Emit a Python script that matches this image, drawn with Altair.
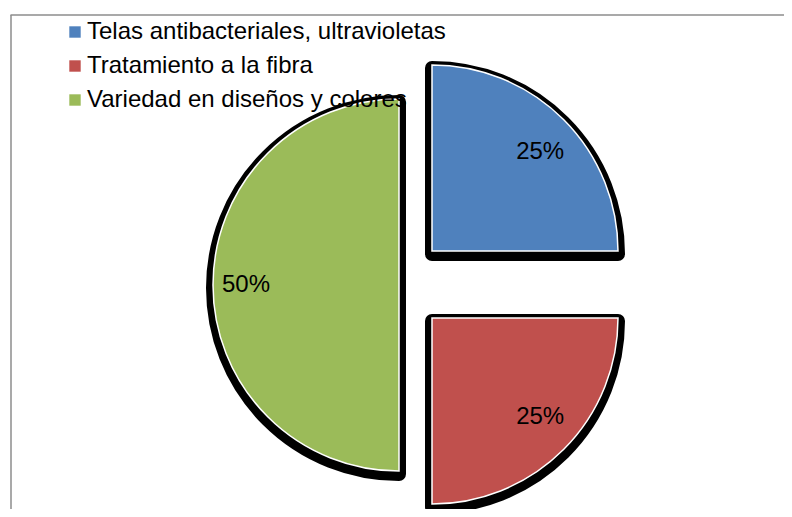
import math
import altair as alt
import pandas as pd

# ---- data ----
categories = ["Telas antibacteriales, ultravioletas", "Tratamiento a la fibra", "Variedad en diseños y colores"]
values = [25, 25, 50]
colors = ["#4F81BD", "#C0504D", "#9BBB59"]

# ---- layout / style (pixels, chart coordinates) ----
W, H = 776, 501
CX, CY = 407, 277
R = 186
LABEL_RX, LABEL_RY = 153, 140
explode = {  # per-slice explosion offsets (style)
    categories[0]: (17, -34),
    categories[1]: (17, 33),
    categories[2]: (-16, 0),
}
SHADOW_DX, SHADOW_DY = 0, 3
FONT = "Liberation Sans, Arial, sans-serif"

df = pd.DataFrame({"cat": categories, "value": values, "idx": list(range(len(categories)))})

base = (
    alt.Chart(df)
    .transform_window(cum="sum(value)", sort=[alt.SortField("idx")], frame=[None, 0])
    .transform_calculate(start="datum.cum - datum.value", mid="datum.cum - datum.value / 2",
                         label="datum.value + '%'")
)

theta = alt.Theta("start:Q", scale=alt.Scale(domain=[0, 100], range=[0, 2 * math.pi]))
theta2 = alt.Theta2("cum:Q")
color = alt.Color(
    "cat:N",
    scale=alt.Scale(domain=categories, range=colors),
    legend=alt.Legend(
        title=None, orient="none", legendX=55, legendY=12, padding=0,
        symbolType="square", symbolSize=130, symbolStrokeWidth=0,
        labelFont=FONT, labelFontSize=24, labelColor="#000000", labelOffset=0,
        rowPadding=10, labelLimit=600,
    ),
)

shadows, fills, texts = [], [], []
for c in categories:
    dx, dy = explode[c]
    sel = base.transform_filter(alt.FieldEqualPredicate(field="cat", equal=c))
    shadows.append(
        sel.mark_arc(radius=R, fill="#000000", stroke="#000000", strokeWidth=14, strokeJoin="round")
        .encode(theta=theta, theta2=theta2,
                x=alt.value(CX + dx + SHADOW_DX), y=alt.value(CY + dy + SHADOW_DY))
    )
    fills.append(
        sel.mark_arc(radius=R, stroke="#FFFFFF", strokeWidth=1.5, strokeJoin="miter")
        .encode(theta=theta, theta2=theta2, color=color,
                x=alt.value(CX + dx), y=alt.value(CY + dy))
    )
    texts.append(
        sel.transform_calculate(
            tx=f"{CX + dx} + {LABEL_RX} * sin(datum.mid / 100 * 2 * PI)",
            ty=f"{CY + dy} - {LABEL_RY} * cos(datum.mid / 100 * 2 * PI)",
        )
        .mark_text(font=FONT, fontSize=24, color="#000000", align="center", baseline="middle")
        .encode(x=alt.X("tx:Q", scale=None), y=alt.Y("ty:Q", scale=None), text="label:N")
    )

one = alt.Chart(pd.DataFrame({"a": [0]}))
frame_top = one.mark_rule(color="#8C8C8C", strokeWidth=1.5).encode(
    x=alt.value(2.5), x2=alt.value(W), y=alt.value(7))
frame_left = one.mark_rule(color="#8C8C8C", strokeWidth=1.5).encode(
    x=alt.value(3), y=alt.value(7), y2=alt.value(H))

chart = (
    alt.layer(frame_top, frame_left, *shadows, *fills, *texts)
    .properties(width=W, height=H, autosize=alt.AutoSizeParams(type="none"), padding=0,
                background="#FFFFFF")
    .configure_view(stroke=None)
)

chart.save("out.html", embed_options={"renderer": "svg", "actions": False})
